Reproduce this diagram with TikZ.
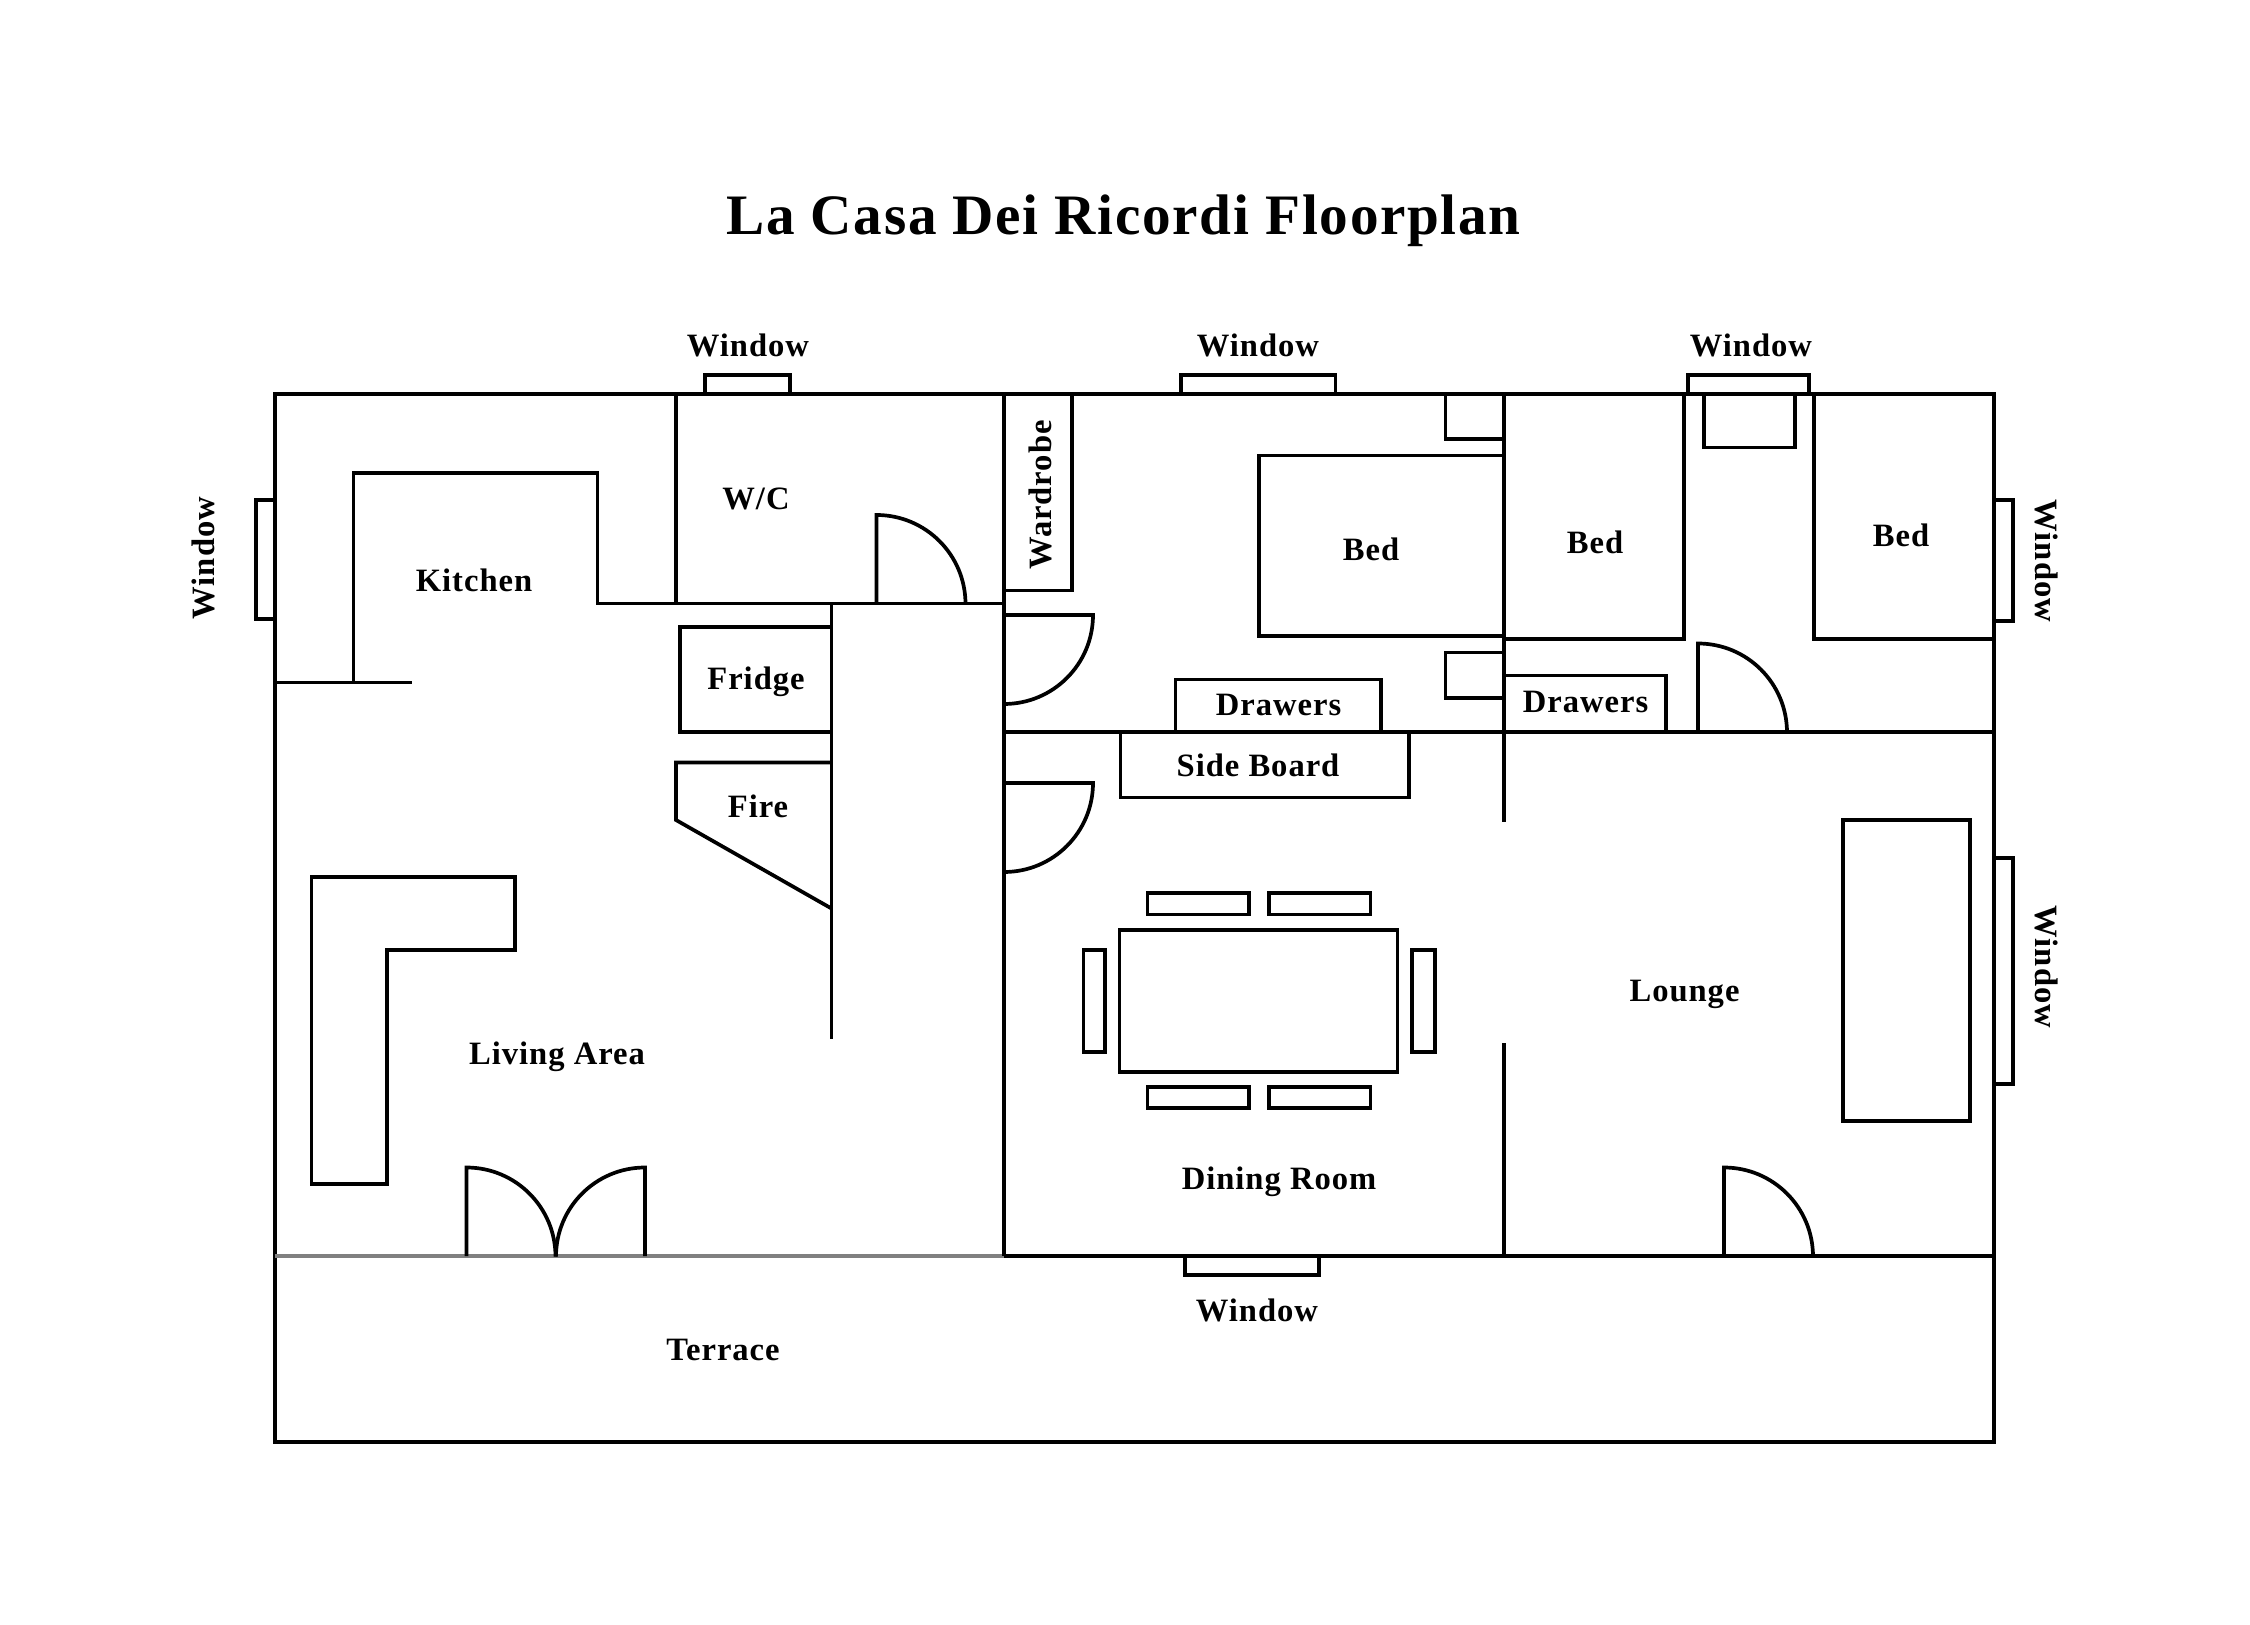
\documentclass[tikz,border=0pt]{standalone}
\usepackage{fontspec}
\setmainfont{Liberation Serif}[LetterSpace=3]
\usepackage{tikz}

\begin{document}
\begin{tikzpicture}[
        x=0.5pt, y=-0.5pt,
        wall/.style={draw=black, line width=1.85pt},
        terraceline/.style={draw=black!50, line width=1.85pt},
        room/.style={font=\fontsize{16.3}{19}\selectfont\bfseries, inner sep=0pt, text=black},
        titlelabel/.style={font=\fontsize{28.6}{34}\selectfont\bfseries, inner sep=0pt, text=black}
    ]
    \useasboundingbox (0,0) rectangle (2250,1625);

    % outer walls
    \draw[wall] (275,394) rectangle (1994,1442);
    \draw[terraceline] (275,1256) -- (1004,1256);
    \draw[wall] (1004,1256) -- (1994,1256);
    \draw[wall] (1004,394) -- (1004,1256);
    \draw[wall] (1004,732) -- (1994,732);
    \draw[wall] (1504,394) -- (1504,822.5);
    \draw[wall] (1504,1043) -- (1504,1256);

    % kitchen, w/c, stairs
    \draw[wall] (275,682.5) -- (411.5,682.5);
    \draw[wall] (353.5,682.5) -- (353.5,473) -- (597.5,473) -- (597.5,603.5) -- (1004,603.5);
    \draw[wall] (676,394) -- (676,603.5);
    \draw[wall] (831.5,603.5) -- (831.5,1039);
    \draw[wall] (831.5,627) -- (680,627) -- (680,732) -- (831.5,732);
    \draw[wall] (831.5,762.5) -- (676,762.5) -- (676,820) -- (831.5,908.5);
    \draw[wall] (311.5,877) -- (515,877) -- (515,950) -- (387,950) -- (387,1184) -- (311.5,1184) -- cycle;

    % windows
    \draw[wall] (705,394) -- (705,375) -- (790,375) -- (790,394);
    \draw[wall] (1181,394) -- (1181,375) -- (1335.5,375) -- (1335.5,394);
    \draw[wall] (1688,394) -- (1688,375) -- (1809,375) -- (1809,394);
    \draw[wall] (275,500) -- (256,500) -- (256,619) -- (275,619);
    \draw[wall] (1994,500) -- (2013,500) -- (2013,621) -- (1994,621);
    \draw[wall] (1994,858) -- (2013,858) -- (2013,1084) -- (1994,1084);
    \draw[wall] (1185,1256) -- (1185,1275) -- (1319,1275) -- (1319,1256);

    % bedrooms
    \draw[wall] (1004,590.5) -- (1072,590.5) -- (1072,394);
    \draw[wall] (1445.5,394) -- (1445.5,439) -- (1504,439);
    \draw[wall] (1504,455.5) -- (1259,455.5) -- (1259,636) -- (1504,636);
    \draw[wall] (1504,639) -- (1684,639) -- (1684,394);
    \draw[wall] (1704,394) -- (1704,447.5) -- (1795,447.5) -- (1795,394);
    \draw[wall] (1814,394) -- (1814,639) -- (1994,639);
    \draw[wall] (1504,652.5) -- (1445.5,652.5) -- (1445.5,698) -- (1504,698);
    \draw[wall] (1175.5,732) -- (1175.5,679.5) -- (1381,679.5) -- (1381,732);
    \draw[wall] (1504,675.5) -- (1666,675.5) -- (1666,732);

    % dining room, lounge
    \draw[wall] (1120.5,732) -- (1120.5,797.5) -- (1409,797.5) -- (1409,732);
    \draw[wall] (1119.5,930) rectangle (1397.5,1072);
    \draw[wall] (1147.5,893) rectangle (1249,914.5);
    \draw[wall] (1269,893) rectangle (1370.5,914.5);
    \draw[wall] (1147.5,1087) rectangle (1249,1108);
    \draw[wall] (1269,1087) rectangle (1370.5,1108);
    \draw[wall] (1083.5,950) rectangle (1105,1052);
    \draw[wall] (1412,950) rectangle (1435,1052);
    \draw[wall] (1843,820) rectangle (1970,1121);

    % doors
    \draw[wall] (876.5,603.5) -- (876.5,515) arc[start angle=90, end angle=0, radius=44.5pt];
    \draw[wall] (1004,615) -- (1093,615) arc[start angle=0, end angle=-90, radius=44.5pt];
    \draw[wall] (1004,783) -- (1093,783) arc[start angle=0, end angle=-90, radius=44.5pt];
    \draw[wall] (1698,732) -- (1698,643.5) arc[start angle=90, end angle=0, radius=44.5pt];
    \draw[wall] (1724,1256) -- (1724,1167.5) arc[start angle=90, end angle=0, radius=44.5pt];
    \draw[wall] (466.5,1256) -- (466.5,1167.5) arc[start angle=90, end angle=0, radius=44.5pt] -- (555.5,1256);
    \draw[wall] (645,1256) -- (645,1167.5) arc[start angle=90, end angle=180, radius=44.5pt];

    % labels
    \node[titlelabel] (title) at (1123.5,221) {La Casa Dei Ricordi Floorplan};
    \node[room] (windowa) at (748,345) {Window};
    \node[room] (windowb) at (1258,345) {Window};
    \node[room] (windowc) at (1751,345) {Window};
    \node[room, rotate=90] (windowd) at (203,558) {Window};
    \node[room, rotate=-90] (windowe) at (2047,561) {Window};
    \node[room, rotate=-90] (windowf) at (2047,967) {Window};
    \node[room] (windowg) at (1257,1310) {Window};
    \node[room, rotate=90] (wardrobe) at (1040,495) {Wardrobe};
    \node[room] (beda) at (1371,549) {Bed};
    \node[room] (bedb) at (1595,542) {Bed};
    \node[room] (bedc) at (1901,535) {Bed};
    \node[room] (kitchen) at (474,580) {Kitchen};
    \node[room] (wc) at (756,499) {W/C};
    \node[room] (fridge) at (756,682) {Fridge};
    \node[room] (fire) at (758,806) {Fire};
    \node[room] (drawersa) at (1278.5,705) {Drawers};
    \node[room] (drawersb) at (1585.5,702) {Drawers};
    \node[room] (sideboard) at (1258,765) {Side Board};
    \node[room] (lounge) at (1684.5,994) {Lounge};
    \node[room] (dining) at (1279,1182) {Dining Room};
    \node[room] (living) at (557,1057) {Living Area};
    \node[room] (terrace) at (723,1350) {Terrace};
\end{tikzpicture}
\end{document}
